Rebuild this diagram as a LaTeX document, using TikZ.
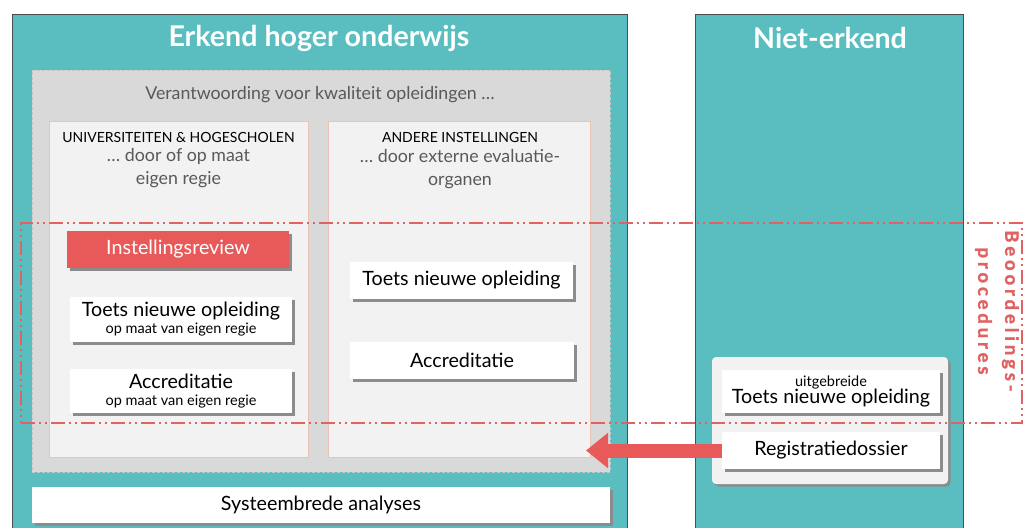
\documentclass[tikz,border=0pt]{standalone}
\usepackage{fontspec}
\setmainfont{Lato}
\usetikzlibrary{shadows,arrows.meta}
\definecolor{tealc}{HTML}{5ABDBF}
\definecolor{grayc}{HTML}{D9D9D9}
\definecolor{lightc}{HTML}{F2F2F2}
\definecolor{salmonc}{HTML}{E9C4B4}
\definecolor{redc}{HTML}{E85A5A}
\definecolor{dredc}{HTML}{E06262}
\definecolor{txtgray}{HTML}{595959}
\newcommand\smtxt[1]{{\fontsize{14.5}{16}\selectfont #1}}
\tikzset{
  panel/.style={draw=black!70, line width=0.6pt, fill=tealc, inner sep=0pt, anchor=north west},
  ptitle/.style={text=white, font=\bfseries\fontsize{28.6}{32}\selectfont},
  graybox/.style={fill=grayc, draw=gray!45, densely dashed, line width=0.4pt, inner sep=0pt, anchor=north west},
  innerbox/.style={fill=lightc, draw=salmonc, line width=0.6pt, inner sep=0pt, anchor=north west},
  captext/.style={text=black, font=\fontsize{14}{16}\selectfont},
  subtext/.style={text=txtgray, align=center, font=\fontsize{17.8}{23}\selectfont},
  shad/.style={drop shadow={shadow xshift=2.5pt, shadow yshift=-2.5pt, fill=black!45, opacity=1}},
  card/.style={fill=white, shad, inner sep=0pt, align=center, text=black, font=\fontsize{19.7}{21}\selectfont},
  redcard/.style={card, fill=redc, text=white},
  dashbox/.style={draw=dredc, line width=2.2pt, dash pattern=on 14pt off 4pt on 2pt off 4pt on 2pt off 4pt, inner sep=0pt},
  grpbox/.style={fill=lightc, rounded corners=4pt, shad, inner sep=0pt},
  bigarrow/.style={draw=redc, line width=14pt, -{Triangle[length=22pt, width=34pt]}},
  proctext/.style={rotate=-90, text=dredc, align=center, font=\bfseries\fontsize{18.5}{27}\selectfont\addfontfeature{LetterSpace=21,FakeBold=1.5}},
}
\begin{document}
\begin{tikzpicture}[x=1pt,y=-1pt]
\useasboundingbox (0,0) rectangle (1024,527);
% panels
\node[panel, minimum width=615pt, minimum height=520pt] (erkend) at (12,14) {};
\node[panel, minimum width=268pt, minimum height=520pt] (niet) at (695,14) {};
\node[ptitle] (terkend) at (319,38) {Erkend hoger onderwijs};
\node[ptitle] (tniet) at (830,38) {Niet-erkend};
% gray box
\node[graybox, minimum width=578pt, minimum height=402pt] (gray) at (32,70) {};
\node[text=txtgray, font=\fontsize{17.8}{20}\selectfont] (verant) at (320,95) {Verantwoording voor kwaliteit opleidingen \dots};
% inner boxes
\node[innerbox, minimum width=259pt, minimum height=336pt] (uni) at (49,121) {};
\node[innerbox, minimum width=262pt, minimum height=336pt] (andere) at (328,121) {};
\node[captext] (tuni) at (178.5,137) {UNIVERSITEITEN \& HOGESCHOLEN};
\node[subtext] (suni) at (178.5,168.5) {\dots\ door of op maat\\eigen regie};
\node[captext] (tand) at (460,137) {ANDERE INSTELLINGEN};
\node[subtext] (sand) at (460,169.5) {\dots\ door externe evaluatie-\\organen};
% cards left
\node[redcard, minimum width=222pt, minimum height=37pt] (review) at (178,249.5) {Instellingsreview};
\node[card, minimum width=222pt, minimum height=45pt] (toetsl) at (181,319.5) {Toets nieuwe opleiding\\[-4pt]\smtxt{op maat van eigen regie}};
\node[card, minimum width=222pt, minimum height=44pt] (accl) at (181,391) {Accreditatie\\[-4pt]\smtxt{op maat van eigen regie}};
% cards right
\node[card, minimum width=223pt, minimum height=37pt] (toetsr) at (461.5,280.5) {Toets nieuwe opleiding};
\node[card, minimum width=224pt, minimum height=37pt] (accr) at (462,360.5) {Accreditatie};
% systeembrede
\node[card, minimum width=578pt, minimum height=36pt] (syst) at (321,505) {Systeembrede analyses};
% niet-erkend group
\node[grpbox, minimum width=236pt, minimum height=127pt] (grp) at (830,420.5) {};
\node[card, minimum width=218pt, minimum height=43pt] (uitg) at (831,391.5) {\smtxt{uitgebreide}\\[-4pt]Toets nieuwe opleiding};
\node[card, minimum width=218pt, minimum height=37pt] (reg) at (831,450.5) {Registratiedossier};
% arrow
\coordinate (tip) at (586,450.5);
\draw[bigarrow] (reg.west) -- (tip);
% procedures box
\node[dashbox, minimum width=1001pt, minimum height=200pt] (proc) at (521.5,323) {};
\node[proctext] (tproc) at (997,311) {Beoordelings-\\procedures};
\end{tikzpicture}
\end{document}
